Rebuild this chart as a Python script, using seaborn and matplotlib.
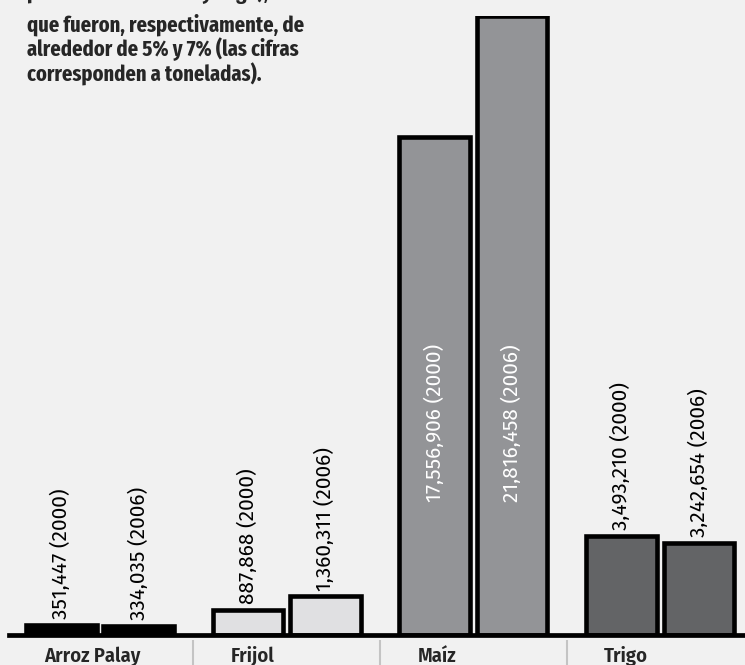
import matplotlib
matplotlib.use("Agg")
import matplotlib.pyplot as plt
from matplotlib.transforms import ScaledTranslation
import numpy as np
import pandas as pd
import seaborn as sns

# datos (toneladas)
cultivos = ["Arroz Palay", "Frijol", "Maíz", "Trigo"]
anios = ["2000", "2006"]
prod_2000 = [351447, 887868, 17556906, 3493210]
prod_2006 = [334035, 1360311, 21816458, 3242654]
colores = ["#000000", "#e0e0e2", "#939497", "#636466"]

linea_cortada = "producción de arroz y trigo),"
texto = ("que fueron, respectivamente, de\n"
         "alrededor de 5% y 7% (las cifras\n"
         "corresponden a toneladas).")

df = pd.DataFrame({
    "cultivo": cultivos * 2,
    "anio": [anios[0]] * 4 + [anios[1]] * 4,
    "toneladas": prod_2000 + prod_2006,
})

sns.set_theme(style="white")
fuente = ["Fira Sans Condensed", "DejaVu Sans"]
fuente_titulo = ["Fira Sans Extra Condensed", "Fira Sans Condensed", "DejaVu Sans"]
fuente_valor = ["Fira Sans", "DejaVu Sans"]
plt.rcParams["font.family"] = fuente

bg = "#f1f1f1"
fig = plt.figure(figsize=(7.45, 6.65), dpi=100, facecolor=bg)
ax = fig.add_axes([9 / 745, 30 / 665, 736 / 745, 619 / 665])
ax.set_facecolor(bg)

sns.barplot(data=df, x="cultivo", y="toneladas", hue="anio", order=cultivos,
            hue_order=anios, width=0.83, gap=0.09, dodge=True,
            edgecolor="black", linewidth=3.3, legend=False, ax=ax)

# color por cultivo, no por año
for cont in ax.containers:
    for bar, c in zip(cont, colores):
        bar.set_facecolor(c)
        bar.set_edgecolor("black")

ax.set_xlim(-0.4875, 3.455)
ax.set_ylim(0, max(prod_2006))
ax.set_xlabel("")
ax.set_ylabel("")
ax.set_yticks([])
for s in ["top", "left", "right"]:
    ax.spines[s].set_visible(False)
ax.spines["bottom"].set_linewidth(3.4)
ax.spines["bottom"].set_color("black")
ax.spines["bottom"].set_zorder(5)

# etiquetas de categoría
ax.set_xticks(range(len(cultivos)))
ax.set_xticklabels(cultivos, ha="left", fontsize=14.8, fontweight="semibold",
                   family=fuente)
ax.tick_params(axis="x", length=0, pad=8)
off = ScaledTranslation(-0.56, 0, fig.dpi_scale_trans)
for lab in ax.get_xticklabels():
    lab.set_transform(lab.get_transform() + off)

# separadores bajo el eje
ax.vlines(np.arange(len(cultivos) - 1) + 0.5, -0.008, -0.06, color="#c4c4c4",
          lw=1.5, transform=ax.get_xaxis_transform(), clip_on=False)

# valores sobre/dentro de las barras
for cont, anio in zip(ax.containers, anios):
    for bar, cult in zip(cont, cultivos):
        v = bar.get_height()
        xc = bar.get_x() + bar.get_width() / 2
        etiqueta = f"{int(v):,} ({anio})"
        if cult == "Maíz":
            ax.text(xc, 0.343, etiqueta, rotation=90, ha="center", va="center",
                    color="white", fontsize=15, fontweight="normal",
                    transform=ax.get_xaxis_transform(), family=fuente_valor)
        else:
            ax.annotate(etiqueta, (xc, v), xytext=(0, 4),
                        textcoords="offset points", rotation=90,
                        ha="center", va="bottom", color="black",
                        fontsize=15, fontweight="normal", family=fuente_valor)

# texto de entrada (la primera línea queda cortada por el borde superior)
fig.text(27 / 745, 1 + 1 / 665, linea_cortada, ha="left", va="baseline",
         fontsize=16, fontweight="bold", family=fuente_titulo)
fig.text(27 / 745, 1 - 86 / 665, texto, ha="left", va="bottom",
         fontsize=16, fontweight="bold", linespacing=1.08,
         family=fuente_titulo)

fig.savefig("out.png", dpi=100, facecolor=bg)
